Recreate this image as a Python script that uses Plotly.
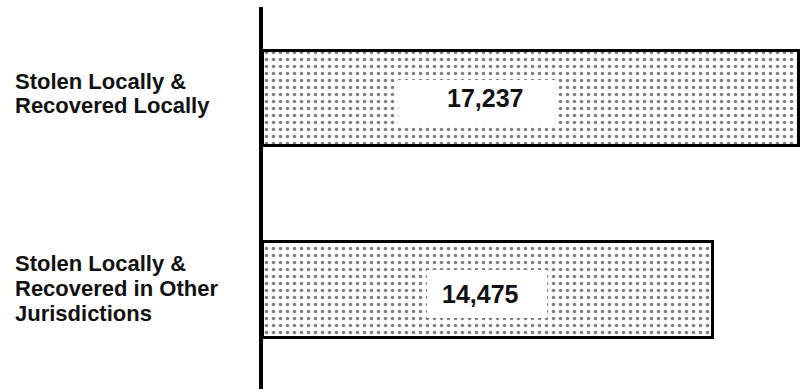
import plotly.graph_objects as go

# ---- data ----
categories = ["Stolen Locally &<br>Recovered Locally",
              "Stolen Locally &<br>Recovered in Other<br>Jurisdictions"]
values = [17237, 14475]
value_labels = [f"{v:,}" for v in values]

W, H = 802, 389
ML, MR, MT, MB = 263, 0, 7, 0
PW, PH = W - ML - MR, H - MT - MB

def px(x):
    return (x - ML) / PW

def py(y):
    return 1 - (y - MT) / PH

fig = go.Figure()
fig.add_trace(go.Bar(
    x=values, y=[0, 1], orientation="h", width=0.5,
    marker=dict(color="white",
                line=dict(color="black", width=3),
                pattern=dict(shape=".", size=7, solidity=0.2,
                             fgcolor="black", bgcolor="white")),
    hoverinfo="skip", showlegend=False,
))

shapes = []
annotations = []
# white label boxes (pixel extents) and text centres
boxes = [(398, 555, 80, 125), (427, 547, 270, 318)]
text_centres = [(485, 98), (480, 294)]
for (x0, x1, y0, y1), (tx, ty), lab in zip(boxes, text_centres, value_labels):
    shapes.append(dict(type="rect", xref="paper", yref="paper",
                       x0=px(x0), x1=px(x1), y0=py(y1), y1=py(y0),
                       fillcolor="white", line=dict(width=0), layer="above"))
    annotations.append(dict(text=f"<b>{lab}</b>", xref="paper", yref="paper",
                            x=px(tx), y=py(ty), xanchor="center", yanchor="middle",
                            showarrow=False,
                            font=dict(family="Liberation Sans, Arial, sans-serif",
                                      size=25, color="#111")))

# category labels, one annotation per line
line_centres = [[81, 105], [263, 288, 313]]
for cat, ys in zip(categories, line_centres):
    for line, yc in zip(cat.split("<br>"), ys):
        annotations.append(dict(text=f"<b>{line}</b>", xref="paper", yref="paper",
                                x=px(13), y=py(yc), xanchor="left", yanchor="middle",
                                showarrow=False,
                                font=dict(family="Liberation Sans, Arial, sans-serif",
                                          size=22, color="#111")))

fig.update_layout(
    width=W, height=H,
    margin=dict(l=ML, r=MR, t=MT, b=MB),
    paper_bgcolor="white", plot_bgcolor="white",
    xaxis=dict(range=[0, 17337], showgrid=False, zeroline=False,
               showline=False, showticklabels=False, ticks=""),
    yaxis=dict(range=[1.517, -0.478], showgrid=False, zeroline=False,
               showline=True, linecolor="black", linewidth=3.5,
               showticklabels=False, ticks=""),
    shapes=shapes, annotations=annotations,
    bargap=0,
)

fig.write_html("out.html", config={"displayModeBar": False},
               post_script="document.body.style.margin='0px';")
